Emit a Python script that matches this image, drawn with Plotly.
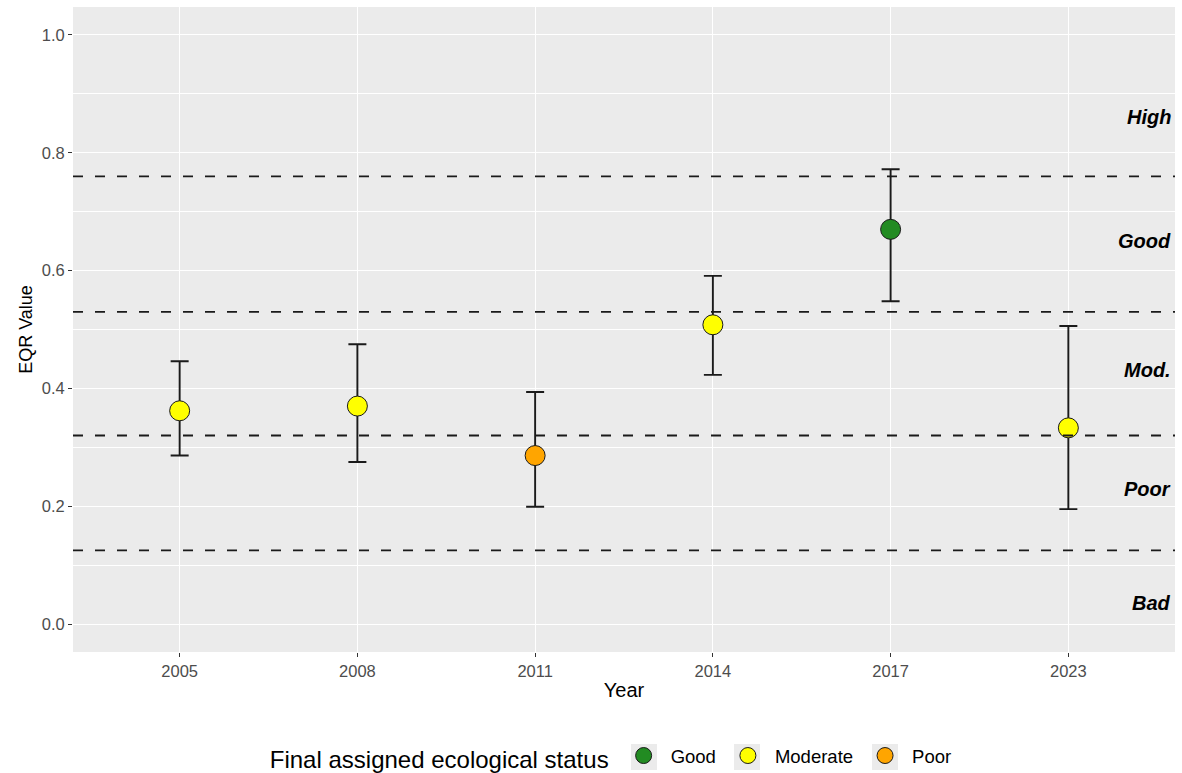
import plotly.graph_objects as go

# Survey years and EQR results
years = ["2005", "2008", "2011", "2014", "2017", "2023"]
eqr = [0.362, 0.370, 0.286, 0.508, 0.670, 0.333]
eqr_upper = [0.446, 0.475, 0.394, 0.591, 0.772, 0.506]
eqr_lower = [0.286, 0.275, 0.199, 0.423, 0.548, 0.195]
status = ["Moderate", "Moderate", "Poor", "Moderate", "Good", "Moderate"]

# Class boundaries and class labels
boundaries = [0.76, 0.53, 0.32, 0.125]
class_names = ["High", "Good", "Mod.", "Poor", "Bad"]
class_label_y = [0.861, 0.650, 0.431, 0.229, 0.036]

status_order = ["Good", "Moderate", "Poor"]
status_colors = {"Good": "#228B22", "Moderate": "#FFFF00", "Poor": "#FFA500"}

FONT = "Liberation Sans, Arial, sans-serif"
W, H = 1182, 773
M_L, M_R, M_T, M_B = 73, 7, 7, 121

fig = go.Figure()

for s in status_order:
    idx = [i for i, v in enumerate(status) if v == s]
    fig.add_trace(go.Scatter(
        x=[years[i] for i in idx],
        y=[eqr[i] for i in idx],
        mode="markers",
        name=s,
        marker=dict(size=20, color=status_colors[s],
                    line=dict(color="#1a1a1a", width=1)),
        error_y=dict(
            type="data", symmetric=False,
            array=[eqr_upper[i] - eqr[i] for i in idx],
            arrayminus=[eqr[i] - eqr_lower[i] for i in idx],
            color="#1a1a1a", thickness=1.9, width=9,
        ),
    ))

for b in boundaries:
    fig.add_shape(type="line", xref="paper", x0=0, x1=1, yref="y", y0=b, y1=b,
                  line=dict(color="#1a1a1a", width=1.9, dash="10px,12px"),
                  layer="above")

for name, yv in zip(class_names, class_label_y):
    fig.add_annotation(x=1, xref="paper", xanchor="right", xshift=-2,
                       y=yv, yref="y", text=f"<b><i>{name}</i></b>",
                       showarrow=False,
                       font=dict(family=FONT, size=20, color="black"))

# grey key backgrounds behind the legend symbols (pixel centres)
plot_w = W - M_L - M_R
plot_h = H - M_T - M_B
key_centres = [644, 747, 885]
key_cy, key_half = 757, 13
for cx in key_centres:
    fig.add_shape(
        type="rect", xref="paper", yref="paper", layer="below",
        x0=(cx - key_half - M_L) / plot_w, x1=(cx + key_half - M_L) / plot_w,
        y0=(H - M_B - (key_cy + key_half)) / plot_h,
        y1=(H - M_B - (key_cy - key_half)) / plot_h,
        fillcolor="#EBEBEB", line=dict(width=0),
    )

fig.update_layout(
    width=W, height=H,
    margin=dict(l=M_L, r=M_R, t=M_T, b=M_B),
    paper_bgcolor="white",
    plot_bgcolor="#EBEBEB",
    font=dict(family=FONT, color="black"),
    showlegend=True,
    legend=dict(
        orientation="h", xref="container", x=0.518, xanchor="center",
        yref="container", y=0.0194, yanchor="middle",
        bgcolor="rgba(0,0,0,0)",
        title=dict(text="Final assigned ecological status", side="left",
                   font=dict(family=FONT, size=24, color="black")),
        font=dict(family=FONT, size=18.5, color="black"),
        itemsizing="trace", itemwidth=44,
    ),
)

fig.update_xaxes(
    type="category", categoryorder="array", categoryarray=years,
    range=[-0.6, len(years) - 0.4],
    showgrid=True, gridcolor="white", gridwidth=1.1,
    zeroline=False, showline=False,
    ticks="outside", ticklen=4, tickcolor="#333333", tickwidth=1,
    tickfont=dict(family=FONT, size=16.5, color="#4D4D4D"),
    title=dict(text="Year", font=dict(family=FONT, size=20, color="black"),
               standoff=4),
)

fig.update_yaxes(
    range=[-0.0475, 1.0475],
    tickvals=[0, 0.2, 0.4, 0.6, 0.8, 1.0],
    ticktext=["0.0", "0.2", "0.4", "0.6", "0.8", "1.0"],
    showgrid=True, gridcolor="white", gridwidth=1.1,
    minor=dict(tickvals=[0.1, 0.3, 0.5, 0.7, 0.9], showgrid=True,
               gridcolor="white", gridwidth=0.55, ticks=""),
    zeroline=False, showline=False,
    ticks="outside", ticklen=4, tickcolor="#333333", tickwidth=1,
    tickfont=dict(family=FONT, size=16.5, color="#4D4D4D"),
    title=dict(text="EQR Value", font=dict(family=FONT, size=18, color="black"),
               standoff=4),
)

fig.write_html("out.html")
